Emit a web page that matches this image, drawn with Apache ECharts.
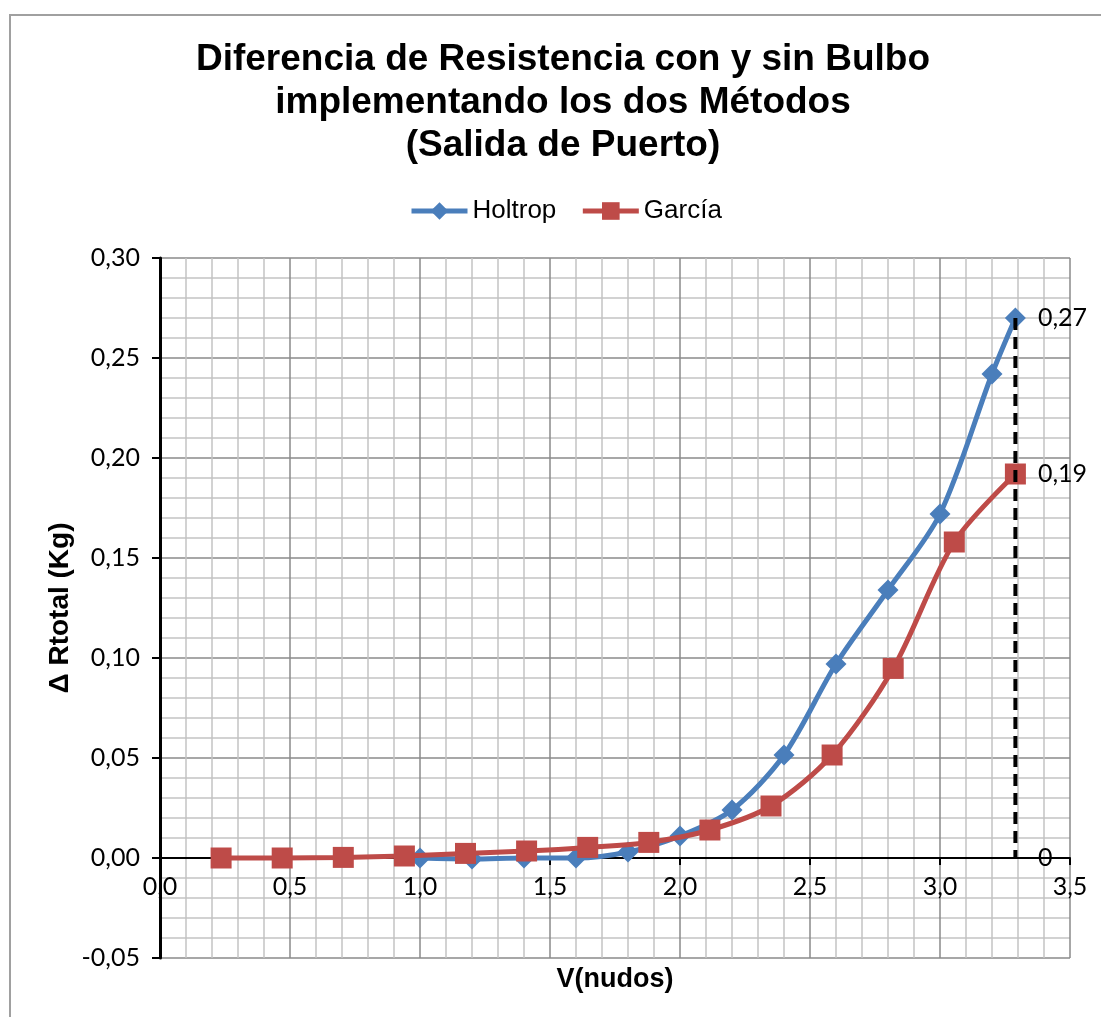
<!DOCTYPE html>
<html>
<head>
<meta charset="utf-8">
<script src="https://cdn.jsdelivr.net/npm/echarts@6/dist/echarts.min.js"></script>
<style>
  html, body { margin: 0; padding: 0; background: #fff; }
  #chart { width: 1101px; height: 1017px; }
</style>
</head>
<body>
<div id="chart"></div>
<script>
// datos
const holtropV = [1.0, 1.2, 1.4, 1.6, 1.8, 2.0, 2.2, 2.4, 2.6, 2.8, 3.0, 3.2, 3.29];
const holtropR = [0.0, -0.0005, 0.0, 0.0, 0.003, 0.011, 0.024, 0.0515, 0.097, 0.134, 0.172, 0.242, 0.27];
const garciaV = [0.235, 0.47, 0.705, 0.94, 1.175, 1.41, 1.645, 1.88, 2.115, 2.35, 2.585, 2.82, 3.055, 3.29];
const garciaR = [0.0, 0.0, 0.0003, 0.001, 0.0023, 0.0035, 0.0053, 0.0078, 0.014, 0.026, 0.0515, 0.0948, 0.158, 0.192];
const guideV = [3.29, 3.29, 3.29];   // linea discontinua
const guideR = [0.27, 0.192, 0.0];

const chart = echarts.init(document.getElementById('chart'), null, { renderer: 'canvas' });

const fmt = (v, d) => v.toFixed(d).replace('.', ',');

const option = {
  animation: false,
  title: {
    text: 'Diferencia de Resistencia con y sin Bulbo\nimplementando los dos Métodos\n(Salida de Puerto)',
    left: 558,
    top: 33,
    textAlign: 'center',
    textStyle: {
      fontFamily: 'Liberation Sans',
      fontSize: 37,
      fontWeight: 'bold',
      color: '#000',
      lineHeight: 43
    }
  },
  legend: {
    top: 193,
    left: 404,
    itemWidth: 56,
    itemHeight: 22,
    itemGap: 24,
    lineStyle: { width: 5 },
    textStyle: { fontFamily: 'Liberation Sans', fontSize: 26, color: '#000' },
    data: ['Holtrop', 'García']
  },
  graphic: [{
    type: 'rect',
    shape: { x: 10, y: 15, width: 1200, height: 1100 },
    style: { fill: 'none', stroke: '#a0a0a0', lineWidth: 2 },
    silent: true
  }],
  grid: { left: 160, top: 258, width: 910, height: 700, outerBoundsMode: 'none' },
  xAxis: {
    type: 'value',
    min: 0,
    max: 3.5,
    interval: 0.5,
    offset: -100,   // eje cruza en y = 0
    name: 'V(nudos)',
    nameLocation: 'middle',
    nameGap: 108,
    nameMoveOverlap: false,
    nameTextStyle: { fontFamily: 'Liberation Sans', fontSize: 27, fontWeight: 'bold', color: '#000' },
    axisLine: { onZero: false, lineStyle: { color: '#000', width: 2 } },
    axisTick: { show: true, inside: false, length: 7, lineStyle: { color: '#000', width: 2 } },
    axisLabel: {
      margin: 16,
      fontFamily: 'Lato',
      fontSize: 25,
      color: '#000',
      showMinLabel: true,
      showMaxLabel: true,
      formatter: v => fmt(v, 1)
    },
    splitLine: { show: true, lineStyle: { color: '#8a8a8a', width: 1.5 } },
    minorTick: { show: false, splitNumber: 5 },
    minorSplitLine: { show: true, lineStyle: { color: '#c4c4c4', width: 1.5 } }
  },
  yAxis: {
    type: 'value',
    min: -0.05,
    max: 0.30,
    interval: 0.05,
    name: '\u0394 Rtotal (Kg)',
    nameLocation: 'middle',
    nameGap: 86,
    nameMoveOverlap: false,
    nameRotate: 90,
    nameTextStyle: { fontFamily: 'Liberation Sans', fontSize: 28, fontWeight: 'bold', color: '#000' },
    axisLine: { show: true, onZero: false, lineStyle: { color: '#000', width: 3 } },
    axisTick: { show: true, inside: false, length: 8, lineStyle: { color: '#000', width: 2 } },
    axisLabel: {
      margin: 20,
      fontFamily: 'Lato',
      fontSize: 25,
      color: '#000',
      formatter: v => fmt(v, 2)
    },
    splitLine: { show: true, lineStyle: { color: '#8a8a8a', width: 1.5 } },
    minorTick: { show: false, splitNumber: 5 },
    minorSplitLine: { show: true, lineStyle: { color: '#c4c4c4', width: 1.5 } }
  },
  series: [
    {
      name: 'Holtrop',
      type: 'line',
      smooth: 0.3,
      data: holtropV.map((v, i) => [v, holtropR[i]]),
      symbol: 'diamond',
      symbolSize: 21,
      lineStyle: { color: '#4a7ebb', width: 5 },
      itemStyle: { color: '#4a7ebb' },
      z: 3
    },
    {
      name: 'García',
      type: 'line',
      smooth: 0.3,
      data: garciaV.map((v, i) => [v, garciaR[i]]),
      symbol: 'rect',
      symbolSize: 21,
      lineStyle: { color: '#be4b48', width: 5 },
      itemStyle: { color: '#be4b48' },
      z: 4
    },
    {
      name: 'guia',
      type: 'line',
      data: guideV.map((v, i) => [v, guideR[i]]),
      symbol: 'circle',
      symbolSize: 1,
      itemStyle: { color: 'rgba(0,0,0,0)' },
      lineStyle: { color: '#000', width: 4, type: [12, 7] },
      label: {
        show: true,
        position: 'right',
        distance: 22,
        fontFamily: 'Lato',
        fontSize: 25,
        color: '#000',
        formatter: p => p.value[1] === 0 ? '0' : fmt(p.value[1], 2)
      },
      z: 5
    }
  ]
};

chart.setOption(option);
</script>
</body>
</html>
